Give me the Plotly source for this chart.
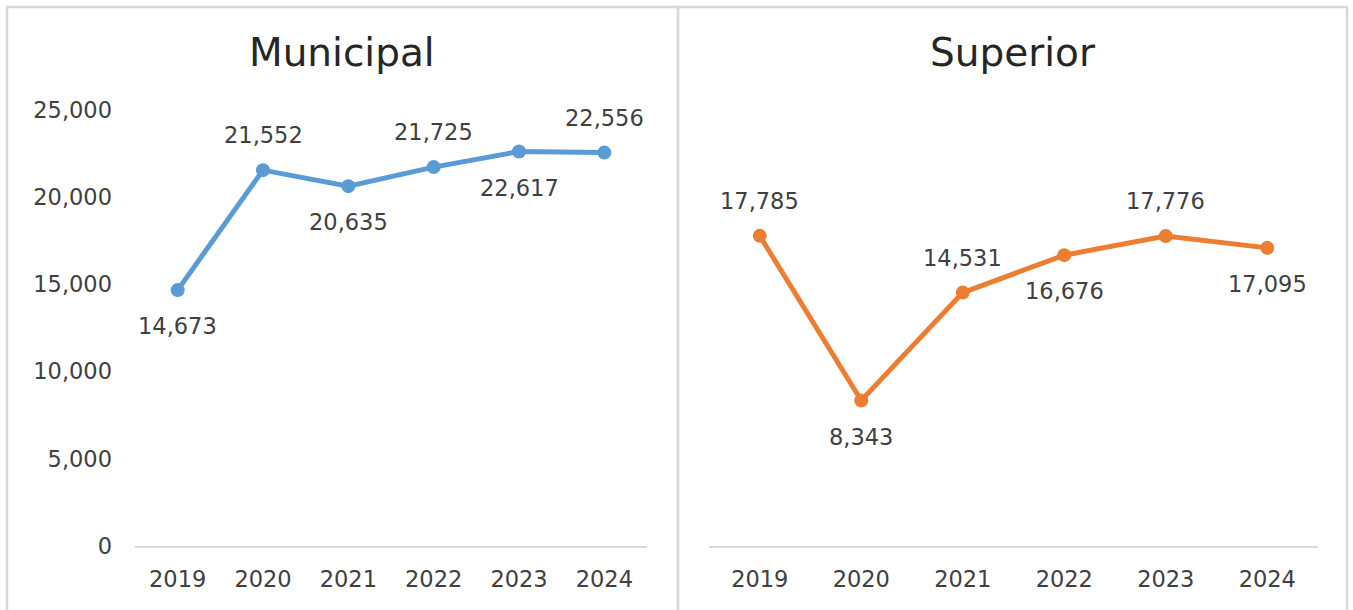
import plotly.graph_objects as go

years = [2019, 2020, 2021, 2022, 2023, 2024]
municipal = [14673, 21552, 20635, 21725, 22617, 22556]
superior = [17785, 8343, 14531, 16676, 17776, 17095]
municipal_label_pos = ["below", "above", "below", "above", "below", "above"]
superior_label_pos = ["above", "below", "above", "below", "above", "below"]
y_ticks = [0, 5000, 10000, 15000, 20000, 25000]

W, H = 1353, 610
FONT = "DejaVu Sans"
TXT = "#404040"
BLUE = "#5B9BD5"
ORANGE = "#ED7D31"
GRID = "#D9D9D9"

def fx(px):
    return px / W

def fy(py):
    return (H - py) / H

fig = go.Figure()
fig.add_trace(go.Scatter(x=years, y=municipal, mode="lines+markers",
                         line=dict(color=BLUE, width=5),
                         marker=dict(color=BLUE, size=14),
                         xaxis="x", yaxis="y", hoverinfo="x+y"))
fig.add_trace(go.Scatter(x=years, y=superior, mode="lines+markers",
                         line=dict(color=ORANGE, width=5),
                         marker=dict(color=ORANGE, size=14),
                         xaxis="x2", yaxis="y2", hoverinfo="x+y"))

annotations = []
for ys, pos, xr, yr in [(municipal, municipal_label_pos, "x", "y"),
                        (superior, superior_label_pos, "x2", "y2")]:
    for xv, yv, p in zip(years, ys, pos):
        annotations.append(dict(x=xv, y=yv, xref=xr, yref=yr, text=f"{yv:,}",
                                showarrow=False, yshift=35 if p == "above" else -36,
                                font=dict(family=FONT, size=22.5, color=TXT)))

for name, cx in [("Municipal", 342.5), ("Superior", 1012.5)]:
    annotations.append(dict(x=fx(cx), y=fy(52), xref="paper", yref="paper", text=name,
                            showarrow=False, font=dict(family=FONT, size=39, color="#262626"),
                            xanchor="center", yanchor="middle"))

shapes = [
    dict(type="rect", xref="paper", yref="paper", x0=fx(7), x1=fx(678), y0=-0.05, y1=fy(7),
         line=dict(color=GRID, width=2.5), fillcolor="rgba(0,0,0,0)", layer="below"),
    dict(type="rect", xref="paper", yref="paper", x0=fx(678), x1=fx(1347), y0=-0.05, y1=fy(7),
         line=dict(color=GRID, width=2.5), fillcolor="rgba(0,0,0,0)", layer="below"),
]

tickfont = dict(family=FONT, size=22.5, color=TXT)
ydom = [fy(546), fy(110)]
xr = [years[0] - 0.5, years[-1] + 0.5]
fig.update_layout(
    width=W, height=H,
    margin=dict(l=0, r=0, t=0, b=0, autoexpand=False),
    paper_bgcolor="white", plot_bgcolor="rgba(0,0,0,0)",
    showlegend=False,
    annotations=annotations,
    shapes=shapes,
    xaxis=dict(domain=[fx(135), fx(647)], range=xr, tickvals=years, showgrid=False, zeroline=False,
               showline=True, linecolor=GRID, linewidth=2, ticks="", tickfont=tickfont,
               ticklabelstandoff=12, automargin=False, fixedrange=True),
    yaxis=dict(domain=ydom, range=[0, 25000], tickvals=y_ticks,
               tickformat=",", showgrid=False, zeroline=False, showline=False, ticks="",
               tickfont=tickfont, ticklabelstandoff=22, automargin=False, fixedrange=True),
    xaxis2=dict(domain=[fx(709), fx(1318)], range=xr, tickvals=years, showgrid=False, zeroline=False,
                showline=True, linecolor=GRID, linewidth=2, ticks="", tickfont=tickfont,
                ticklabelstandoff=12, anchor="y2", automargin=False, fixedrange=True),
    yaxis2=dict(domain=ydom, range=[0, 25000], showticklabels=False, showgrid=False,
                zeroline=False, showline=False, ticks="", anchor="x2", automargin=False,
                fixedrange=True),
)

fig.write_html("out.html", config={"displayModeBar": False},
               post_script="document.body.style.margin='0';document.body.style.overflow='hidden';")
